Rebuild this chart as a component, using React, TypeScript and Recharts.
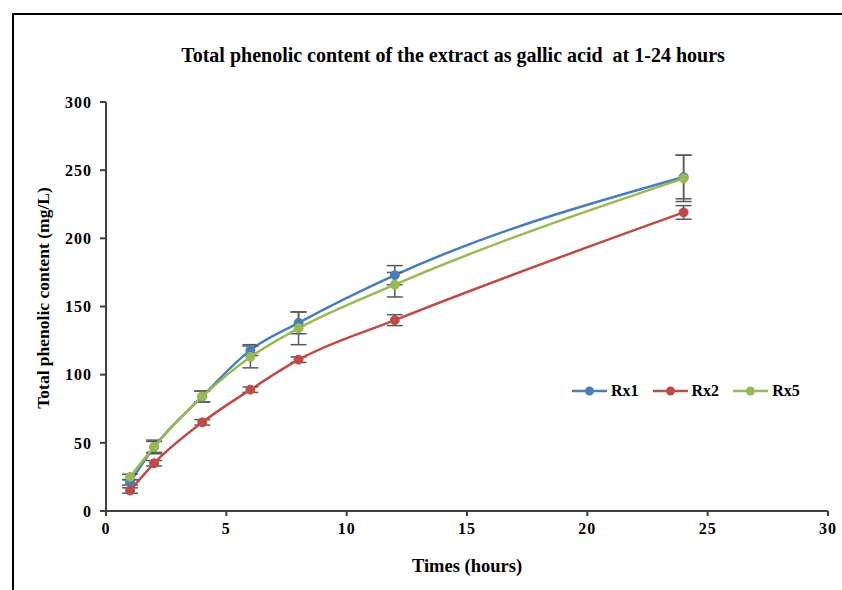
import React from 'react';
import { LineChart, Line, XAxis, YAxis, ErrorBar } from 'recharts';

const hours = [1, 2, 4, 6, 8, 12, 24];
const rx1 = [21, 47, 84, 118, 138, 173, 245];
const rx2 = [15, 35, 65, 89, 111, 140, 219];
const rx5 = [25, 47, 84, 113, 134, 166, 244];
const rx1Err = [2, 4, 4, 4, 8, 7, 16];
const rx2Err = [2, 2, 2, 2, 2, 4, 5];
const rx5Err = [2, 5, 4, 8, 12, 9, 17];
const xTicks = [0, 5, 10, 15, 20, 25, 30];
const yTicks = [0, 50, 100, 150, 200, 250, 300];

const series = [
  { key: 'rx1', err: 'rx1Err', name: 'Rx1', color: '#4A7EBB' },
  { key: 'rx2', err: 'rx2Err', name: 'Rx2', color: '#BE4B48' },
  { key: 'rx5', err: 'rx5Err', name: 'Rx5', color: '#98B954' },
];

const data = hours.map((h, i) => ({
  h,
  rx1: rx1[i],
  rx2: rx2[i],
  rx5: rx5[i],
  rx1Err: rx1Err[i],
  rx2Err: rx2Err[i],
  rx5Err: rx5Err[i],
}));

const font = '"Liberation Serif", "Times New Roman", serif';
const tickStyle = { fill: '#000', fontSize: 16, fontWeight: 'bold' as const, fontFamily: font, letterSpacing: 1 };

const App: React.FC = () => {
  return (
    <div style={{ position: 'fixed', left: 0, top: 0, width: 842, height: 590, background: '#fff', fontFamily: font }}>
      {/* frame */}
      <div style={{ position: 'absolute', left: 12, top: 13, width: 830, height: 577, borderLeft: '2px solid #000', borderTop: '2px solid #000' }} />
      <div style={{ position: 'absolute', left: 453, top: 55, transform: 'translate(-50%, -50%)', fontSize: 20, fontWeight: 'bold', whiteSpace: 'pre' }}>
        {'Total phenolic content of the extract as gallic acid  at 1-24 hours'}
      </div>
      <LineChart
        width={842}
        height={590}
        data={data}
        margin={{ top: 102, right: 14, bottom: 0, left: 0 }}
        style={{ position: 'absolute', left: 0, top: 0 }}
      >
        <XAxis
          dataKey="h"
          type="number"
          domain={[0, 30]}
          ticks={xTicks}
          height={79}
          tick={tickStyle}
          tickSize={5}
          tickMargin={7}
          stroke="#404040"
          strokeWidth={2}
        />
        <YAxis
          type="number"
          domain={[0, 300]}
          ticks={yTicks}
          width={106}
          tick={tickStyle}
          tickSize={6}
          tickMargin={8}
          stroke="#404040"
          strokeWidth={2}
        />
        {series.map(s => (
          <Line
            key={s.key}
            type="monotone"
            dataKey={s.key}
            stroke={s.color}
            strokeWidth={2.5}
            dot={{ r: 4.5, fill: s.color, stroke: s.color, strokeWidth: 1 }}
            activeDot={false}
            isAnimationActive={false}
          >
            <ErrorBar dataKey={s.err} direction="y" width={8} stroke="#595959" strokeWidth={1.5} />
          </Line>
        ))}
      </LineChart>
      <div
        style={{
          position: 'absolute', left: 43, top: 298, transform: 'translate(-50%, -50%) rotate(-90deg)',
          fontSize: 17.5, fontWeight: 'bold', whiteSpace: 'nowrap',
        }}
      >
        Total phenolic content (mg/L)
      </div>
      <div style={{ position: 'absolute', left: 467, top: 566, transform: 'translate(-50%, -50%)', fontSize: 18.5, fontWeight: 'bold', whiteSpace: 'nowrap' }}>
        Times (hours)
      </div>
      <div style={{ position: 'absolute', left: 572, top: 381, display: 'flex', alignItems: 'center', fontSize: 16, fontWeight: 'bold' }}>
        {series.map(s => (
          <div key={s.key} style={{ display: 'flex', alignItems: 'center', marginRight: 14 }}>
            <svg width={36} height={20}>
              <line x1={0} y1={10} x2={35} y2={10} stroke={s.color} strokeWidth={2.5} />
              <circle cx={17.5} cy={10} r={4.5} fill={s.color} />
            </svg>
            <span style={{ marginLeft: 3 }}>{s.name}</span>
          </div>
        ))}
      </div>
    </div>
  );
};

export default App;
